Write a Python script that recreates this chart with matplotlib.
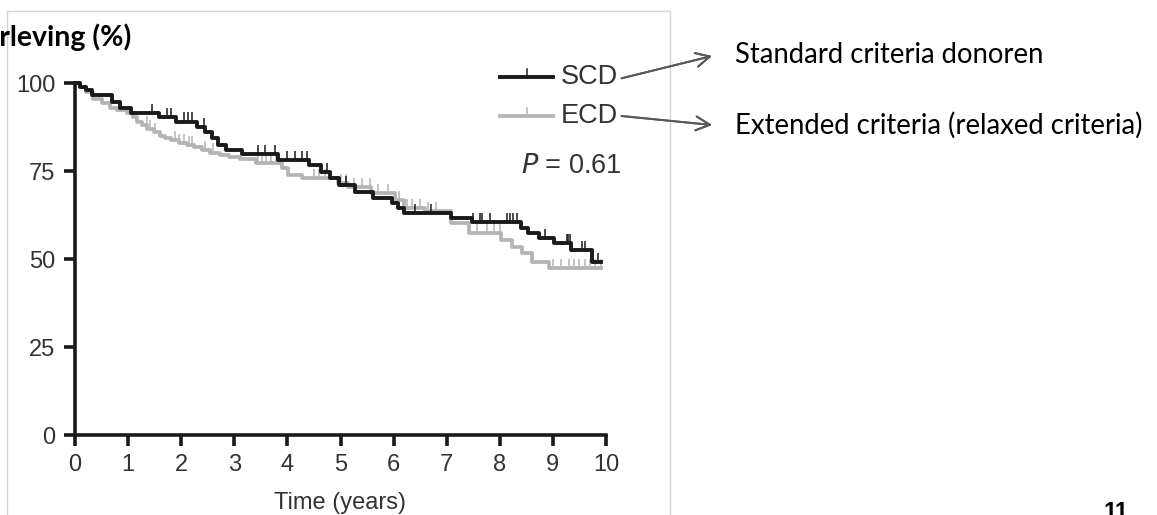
import numpy as np
import matplotlib.pyplot as plt
from matplotlib.patches import Rectangle

# Kaplan-Meier step data (years, % survival)
SCD_TIME = [0, 0.1, 0.2, 0.32, 0.7, 0.85, 1.05, 1.58, 1.9, 2.3, 2.45, 2.58, 2.7,
            2.85, 3.15, 3.83, 4.4, 4.63, 4.8, 4.97, 5.27, 5.62, 5.97, 6.08, 6.2,
            7.08, 7.47, 8.4, 8.54, 8.73, 9.03, 9.35, 9.73, 9.9]
SCD_SURV = [100, 99, 98, 96.6, 94.6, 92.9, 91.5, 90.3, 89, 87.5, 86, 84.4, 82.4,
            81, 79.7, 78, 76.7, 74.7, 73, 71, 69, 67.3, 65.9, 64.5, 63,
            61.6, 60.5, 58.8, 57.4, 56, 54.5, 52.6, 49.1, 49.1]
SCD_CENSOR = [1.45, 1.74, 1.8, 2.05, 2.12, 2.2, 2.42, 3.45, 3.58, 3.77, 4.0, 4.15,
              4.28, 4.37, 4.75, 5.1, 6.4, 6.7, 7.5, 7.63, 7.66, 7.82, 8.13, 8.19,
              8.25, 8.32, 8.85, 9.27, 9.29, 9.32, 9.55, 9.6, 9.85]

ECD_TIME = [0, 0.1, 0.2, 0.34, 0.5, 0.66, 0.8, 0.98, 1.1, 1.17, 1.27, 1.36, 1.48,
            1.6, 1.7, 1.8, 1.95, 2.1, 2.25, 2.4, 2.55, 2.73, 2.9, 3.1, 3.4, 3.9,
            4.02, 4.28, 4.95, 5.15, 5.58, 6.02, 6.2, 6.6, 7.08, 7.42, 8.03, 8.23,
            8.42, 8.6, 8.93, 9.9]
ECD_SURV = [100, 99, 97.5, 95.5, 94.3, 93, 92.3, 91.5, 90.2, 89, 88, 87, 86,
            85, 84.4, 83.8, 83, 82.4, 81.7, 81, 80.2, 79.5, 79, 78.5, 77.3, 75.9,
            73.9, 73, 71.6, 70.5, 68.8, 66.8, 64.5, 63.5, 60.2, 57.4, 55.4, 53.4,
            51.7, 49.1, 47.4, 47.4]
ECD_CENSOR = [1.35, 1.42, 1.5, 1.88, 1.95, 2.05, 2.15, 2.2, 2.45, 2.6, 3.45, 3.52,
              3.6, 3.7, 3.78, 4.5, 4.6, 4.7, 5.0, 5.1, 5.25, 5.4, 5.55, 5.7, 5.9,
              6.1, 6.25, 6.35, 6.5, 6.65, 6.8, 7.57, 7.76, 7.89, 8.01, 9.0, 9.15,
              9.3, 9.4, 9.5, 9.6, 9.7, 9.8, 9.9]

X_TICKS = list(range(0, 11))
Y_TICKS = [0, 25, 50, 75, 100]

BLACK = "#1a1a1a"
GREY = "#b4b4b4"
TXT = "#333333"

plt.rcParams["font.family"] = ["Liberation Sans", "DejaVu Sans"]

W, H = 1157, 515
fig = plt.figure(figsize=(W / 100, H / 100), dpi=100)


def px(x, y):
    # screen pixel (top-left origin) -> figure fraction
    return x / W, 1 - y / H


def surv_at(times, surv, t):
    idx = np.searchsorted(times, t, side="right") - 1
    return np.array(surv)[idx]


# frame of the pasted image
fig.patches.append(Rectangle(px(7, 530), (670 - 7) / W, (530 - 11) / H,
                             transform=fig.transFigure, fill=False,
                             edgecolor="#d4d4d4", linewidth=1.0))

x0, y0 = px(75, 435)
x1, y1 = px(606, 83)
ax = fig.add_axes([x0, y0, x1 - x0, y1 - y0])

ax.step(ECD_TIME, ECD_SURV, where="post", color=GREY, linewidth=2.7,
        clip_on=False, zorder=2, label="ECD")
ax.step(SCD_TIME, SCD_SURV, where="post", color=BLACK, linewidth=2.8,
        clip_on=False, zorder=3, label="SCD")
ax.plot(ECD_CENSOR, surv_at(ECD_TIME, ECD_SURV, ECD_CENSOR) + 1.2, "|",
        color=GREY, markersize=7, markeredgewidth=1.1, zorder=2)
ax.plot(SCD_CENSOR, surv_at(SCD_TIME, SCD_SURV, SCD_CENSOR) + 1.2, "|",
        color=BLACK, markersize=7, markeredgewidth=1.1, zorder=3)

ax.set_xlim(0, 10)
ax.set_ylim(0, 100)
ax.set_xticks(X_TICKS)
ax.set_yticks(Y_TICKS)
for side in ("top", "right"):
    ax.spines[side].set_visible(False)
for side in ("left", "bottom"):
    ax.spines[side].set_linewidth(2.6)
    ax.spines[side].set_color(BLACK)
    ax.spines[side].set_capstyle("projecting")
ax.tick_params(direction="out", length=8, width=2.6, color=BLACK,
               labelsize=17, labelcolor=TXT, pad=6)
ax.set_xlabel("Time (years)", fontsize=17, color=TXT, labelpad=11)

# legend drawn in the upper right of the plot
lx0, ly = px(500, 77)
lx1, _ = px(553, 77)
_, ly2 = px(500, 116)
fig.lines.append(plt.Line2D([lx0, lx1], [ly, ly], transform=fig.transFigure,
                            color=BLACK, linewidth=2.8))
fig.lines.append(plt.Line2D([lx0, lx1], [ly2, ly2], transform=fig.transFigure,
                            color=GREY, linewidth=2.7))
mx = (lx0 + lx1) / 2
fig.lines.append(plt.Line2D([mx, mx], [ly, ly + 0.016], transform=fig.transFigure,
                            color=BLACK, linewidth=1.1))
fig.lines.append(plt.Line2D([mx, mx], [ly2, ly2 + 0.016], transform=fig.transFigure,
                            color=GREY, linewidth=1.1))
t_scd = fig.text(*px(561, 77), "SCD", fontsize=19.5, color=TXT, va="center")
t_ecd = fig.text(*px(561, 116), "ECD", fontsize=19.5, color=TXT, va="center")
fig.text(*px(622, 166), r"$\it{P}$ = 0.61", fontsize=19.5, color=TXT,
         va="center", ha="right")

# annotations outside the chart
ARROW = dict(arrowstyle="->,head_length=1.0,head_width=0.5", color="#595959",
             linewidth=1.4, shrinkA=0, shrinkB=0)
fig.add_artist(plt.annotate("", xy=px(712, 56), xycoords="figure fraction",
                            xytext=(1.06, 0.45), textcoords=t_scd,
                            arrowprops=ARROW))
fig.add_artist(plt.annotate("", xy=px(712, 125), xycoords="figure fraction",
                            xytext=(1.06, 0.5), textcoords=t_ecd,
                            arrowprops=ARROW))
fig.text(*px(735, 55), "Standard criteria donoren", fontsize=19.8,
         family=["Lato", "DejaVu Sans"], color="#000000", va="center")
fig.text(*px(735, 125), "Extended criteria (relaxed criteria)", fontsize=19.8,
         family=["Lato", "DejaVu Sans"], color="#000000", va="center")

fig.text(*px(131, 37), "Overleving (%)", fontsize=20.5, fontweight="bold",
         family=["Lato", "DejaVu Sans"], ha="right", va="center")
fig.text(*px(1116, 501), "11", fontsize=17, fontweight="bold",
         family=["Liberation Sans", "DejaVu Sans"], ha="center", va="top")

fig.savefig("out.png", dpi=100)
